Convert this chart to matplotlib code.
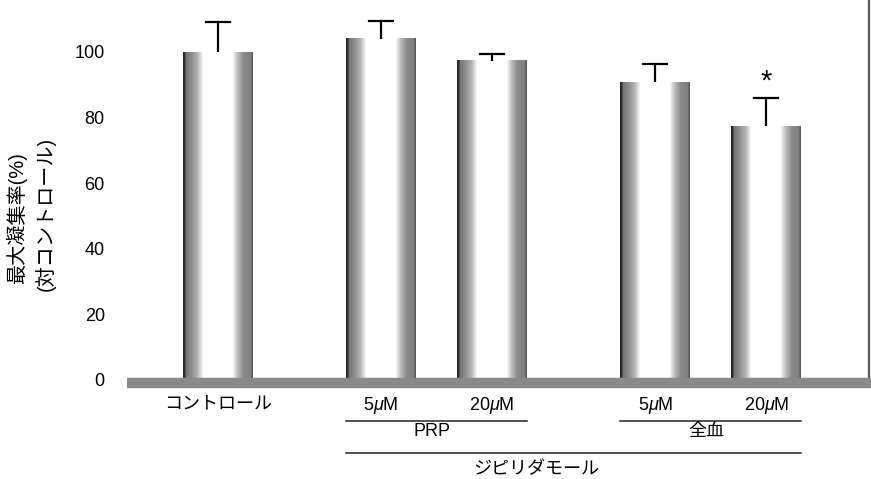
import numpy as np
import matplotlib
matplotlib.use("Agg")
import matplotlib.pyplot as plt

plt.rcParams['font.family'] = ['Liberation Sans', 'Noto Sans CJK JP', 'DejaVu Sans']
plt.rcParams['mathtext.fontset'] = 'custom'
plt.rcParams['mathtext.rm'] = 'Liberation Sans'
plt.rcParams['mathtext.it'] = 'Liberation Sans:italic'

# 最大凝集率 (対コントロール, %)
etiquetas = ['コントロール', '5$\\mu$M', '20$\\mu$M', '5$\\mu$M', '20$\\mu$M']
valores = [100, 104, 97.3, 90.8, 77.4]
errores = [9, 5.5, 2.1, 5.5, 8.7]
significativo = [False, False, False, False, True]
grupos = ['PRP', '全血']
farmaco = 'ジピリダモール'

pos = np.array([0, 1.47, 2.47, 3.94, 4.94])
ancho = 0.63
px = 111.0          # pixeles por unidad en x
py = 3.28           # pixeles por unidad en y

fig = plt.figure(figsize=(8.71, 4.79), dpi=100)
ax = fig.add_axes([127/871, 1 - 380/479, 1 - 127/871, 380/479])
ax.set_xlim(-91/px, 653/px)
ax.set_ylim(0, 380/py)

# perfil de gris de cada barra: borde izquierdo oscuro, centro blanco, borde derecho punteado
xs = np.arange(70)
perfil = np.interp(xs, [0, 1.5, 2.5, 8, 14, 20, 49, 54, 60, 67, 69],
                       [0.85, 0.8, 0.55, 0.45, 0.3, 0.0, 0.0, 0.25, 0.45, 0.5, 0.65])
img = 1 - perfil[np.newaxis, :]

for x, v in zip(pos, valores):
    ax.imshow(img, cmap='gray', vmin=0, vmax=1, aspect='auto', interpolation='bilinear',
              extent=[x - ancho/2, x + ancho/2, 0, v], zorder=2)

# barras de error en forma de T (solo hacia arriba)
cap = 12/px
for x, v, e, s in zip(pos, valores, errores, significativo):
    ax.plot([x, x], [v, v + e], color='black', lw=1.6, zorder=3, solid_capstyle='butt')
    ax.plot([x - cap, x + cap], [v + e, v + e], color='black', lw=1.6, zorder=3)
    if s:
        ax.text(x, v + e + 0.6, '*', ha='center', va='bottom', fontsize=21)

# linea base gruesa
ax.axhline(-0.8, color='#8a8a8a', lw=7.5, zorder=4, clip_on=False, solid_capstyle='butt')
ax.axvline(651/px, ymin=0, ymax=1, color='#5a5a5a', lw=1.6, zorder=1)

ax.set_yticks([0, 20, 40, 60, 80, 100])
ax.tick_params(axis='y', length=0, pad=16, labelsize=13)
ax.set_xticks(pos)
ax.set_xticklabels(etiquetas, fontsize=13)
ax.tick_params(axis='x', length=0, pad=11)
for sp in ax.spines.values():
    sp.set_visible(False)

# lineas y nombres de grupos
y1 = -41/py
y2 = -73/py
for (a, b), g in zip([(1, 2), (3, 4)], grupos):
    ax.plot([pos[a] - ancho/2, pos[b] + ancho/2], [y1, y1], color='#222222', lw=1.1, clip_on=False)
    ax.text((pos[a] + pos[b])/2 - 0.04, y1 - 3.3, g, ha='center', va='center', fontsize=13)
ax.plot([pos[1] - ancho/2, pos[4] + ancho/2], [y2, y2], color='#222222', lw=1.1, clip_on=False)
ax.text(pos[2] + 0.4, y2 - 5.0, farmaco, ha='center', va='center', fontsize=13)

# titulo del eje y en dos columnas
fig.text(17/871, 1 - 218/479, '最大凝集率(%)', rotation=90, ha='center', va='center', fontsize=14.5)
fig.text(45/871, 1 - 214/479, '(対コントロール)', rotation=90, ha='center', va='center', fontsize=14.5)

fig.savefig('out.png', dpi=100)
